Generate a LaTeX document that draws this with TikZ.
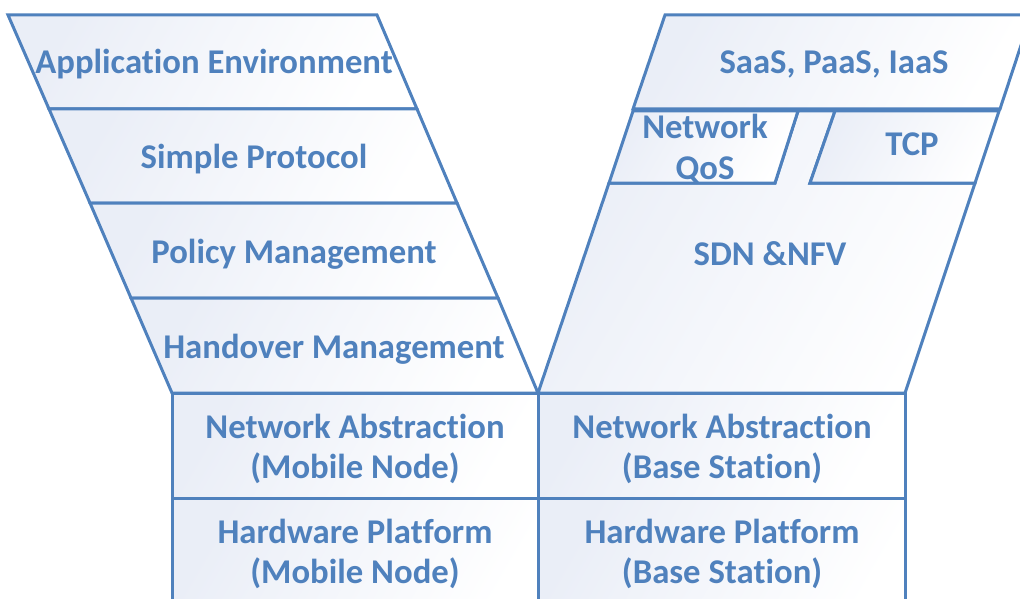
\documentclass[tikz,border=0pt]{standalone}
\usepackage{fontspec}
\setmainfont{Carlito}[RawFeature={-liga;-clig;-calt;-dlig}]
\definecolor{lineblue}{HTML}{4F81BD}
\definecolor{textblue}{HTML}{4F81BD}
\definecolor{fillblue}{HTML}{EAEEF7}
\tikzset{
  layer/.style={draw=lineblue, line width=3pt, line join=miter, left color=fillblue, right color=white, shading angle=60},
  lbl/.style={text=textblue, font=\fontsize{34.7}{40.5}\selectfont\bfseries, align=center, inner sep=0pt}
}
\begin{document}
\begin{tikzpicture}[x=1pt,y=-1pt]
\useasboundingbox (0,0) rectangle (1020,599);
\clip (0,0) rectangle (1020,599);
% left funnel
\draw[layer] (8,15) -- (377,15) -- (417,109) -- (49,109) -- cycle;
\draw[layer] (49,109) -- (417,109) -- (457,203) -- (90,203) -- cycle;
\draw[layer] (90,203) -- (457,203) -- (498,298) -- (131,298) -- cycle;
\draw[layer] (131,298) -- (498,298) -- (538,393) -- (172,393) -- cycle;
% right funnel
\draw[layer] (665,15) -- (1031,15) -- (1000,109) -- (633,109) -- cycle;
\draw[layer] (609,183) -- (775,183) -- (798,111) -- (835,111) -- (810,183) -- (975,183) -- (905,393) -- (538,393) -- cycle;
\draw[layer] (633,111) -- (798,111) -- (775,183) -- (609,183) -- cycle;
\draw[layer] (835,111) -- (999,111) -- (975,183) -- (810,183) -- cycle;
% bottom blocks
\draw[layer] (172,393) rectangle (538,498);
\draw[layer] (538,393) rectangle (905,498);
\draw[layer] (172,498) rectangle (538,630);
\draw[layer] (538,498) rectangle (905,630);
% labels
\node[lbl] (app) at (214,64) {Application Environment};
\node[lbl] (simple) at (254,159) {Simple Protocol};
\node[lbl] (policy) at (294,254) {Policy Management};
\node[lbl] (handover) at (334,349) {Handover Management};
\node[lbl] (saas) at (834,64) {SaaS, PaaS, IaaS};
\node[lbl] (qos) at (705,149) {Network\\QoS};
\node[lbl] (tcp) at (912,144) {TCP};
\node[lbl] (sdn) at (770,254) {SDN \&NFV};
\node[lbl] (namn) at (355,449) {Network Abstraction\\(Mobile Node)};
\node[lbl] (nabs) at (722,449) {Network Abstraction\\(Base Station)};
\node[lbl] (hpmn) at (355,554) {Hardware Platform\\(Mobile Node)};
\node[lbl] (hpbs) at (722,554) {Hardware Platform\\(Base Station)};
\end{tikzpicture}
\end{document}
